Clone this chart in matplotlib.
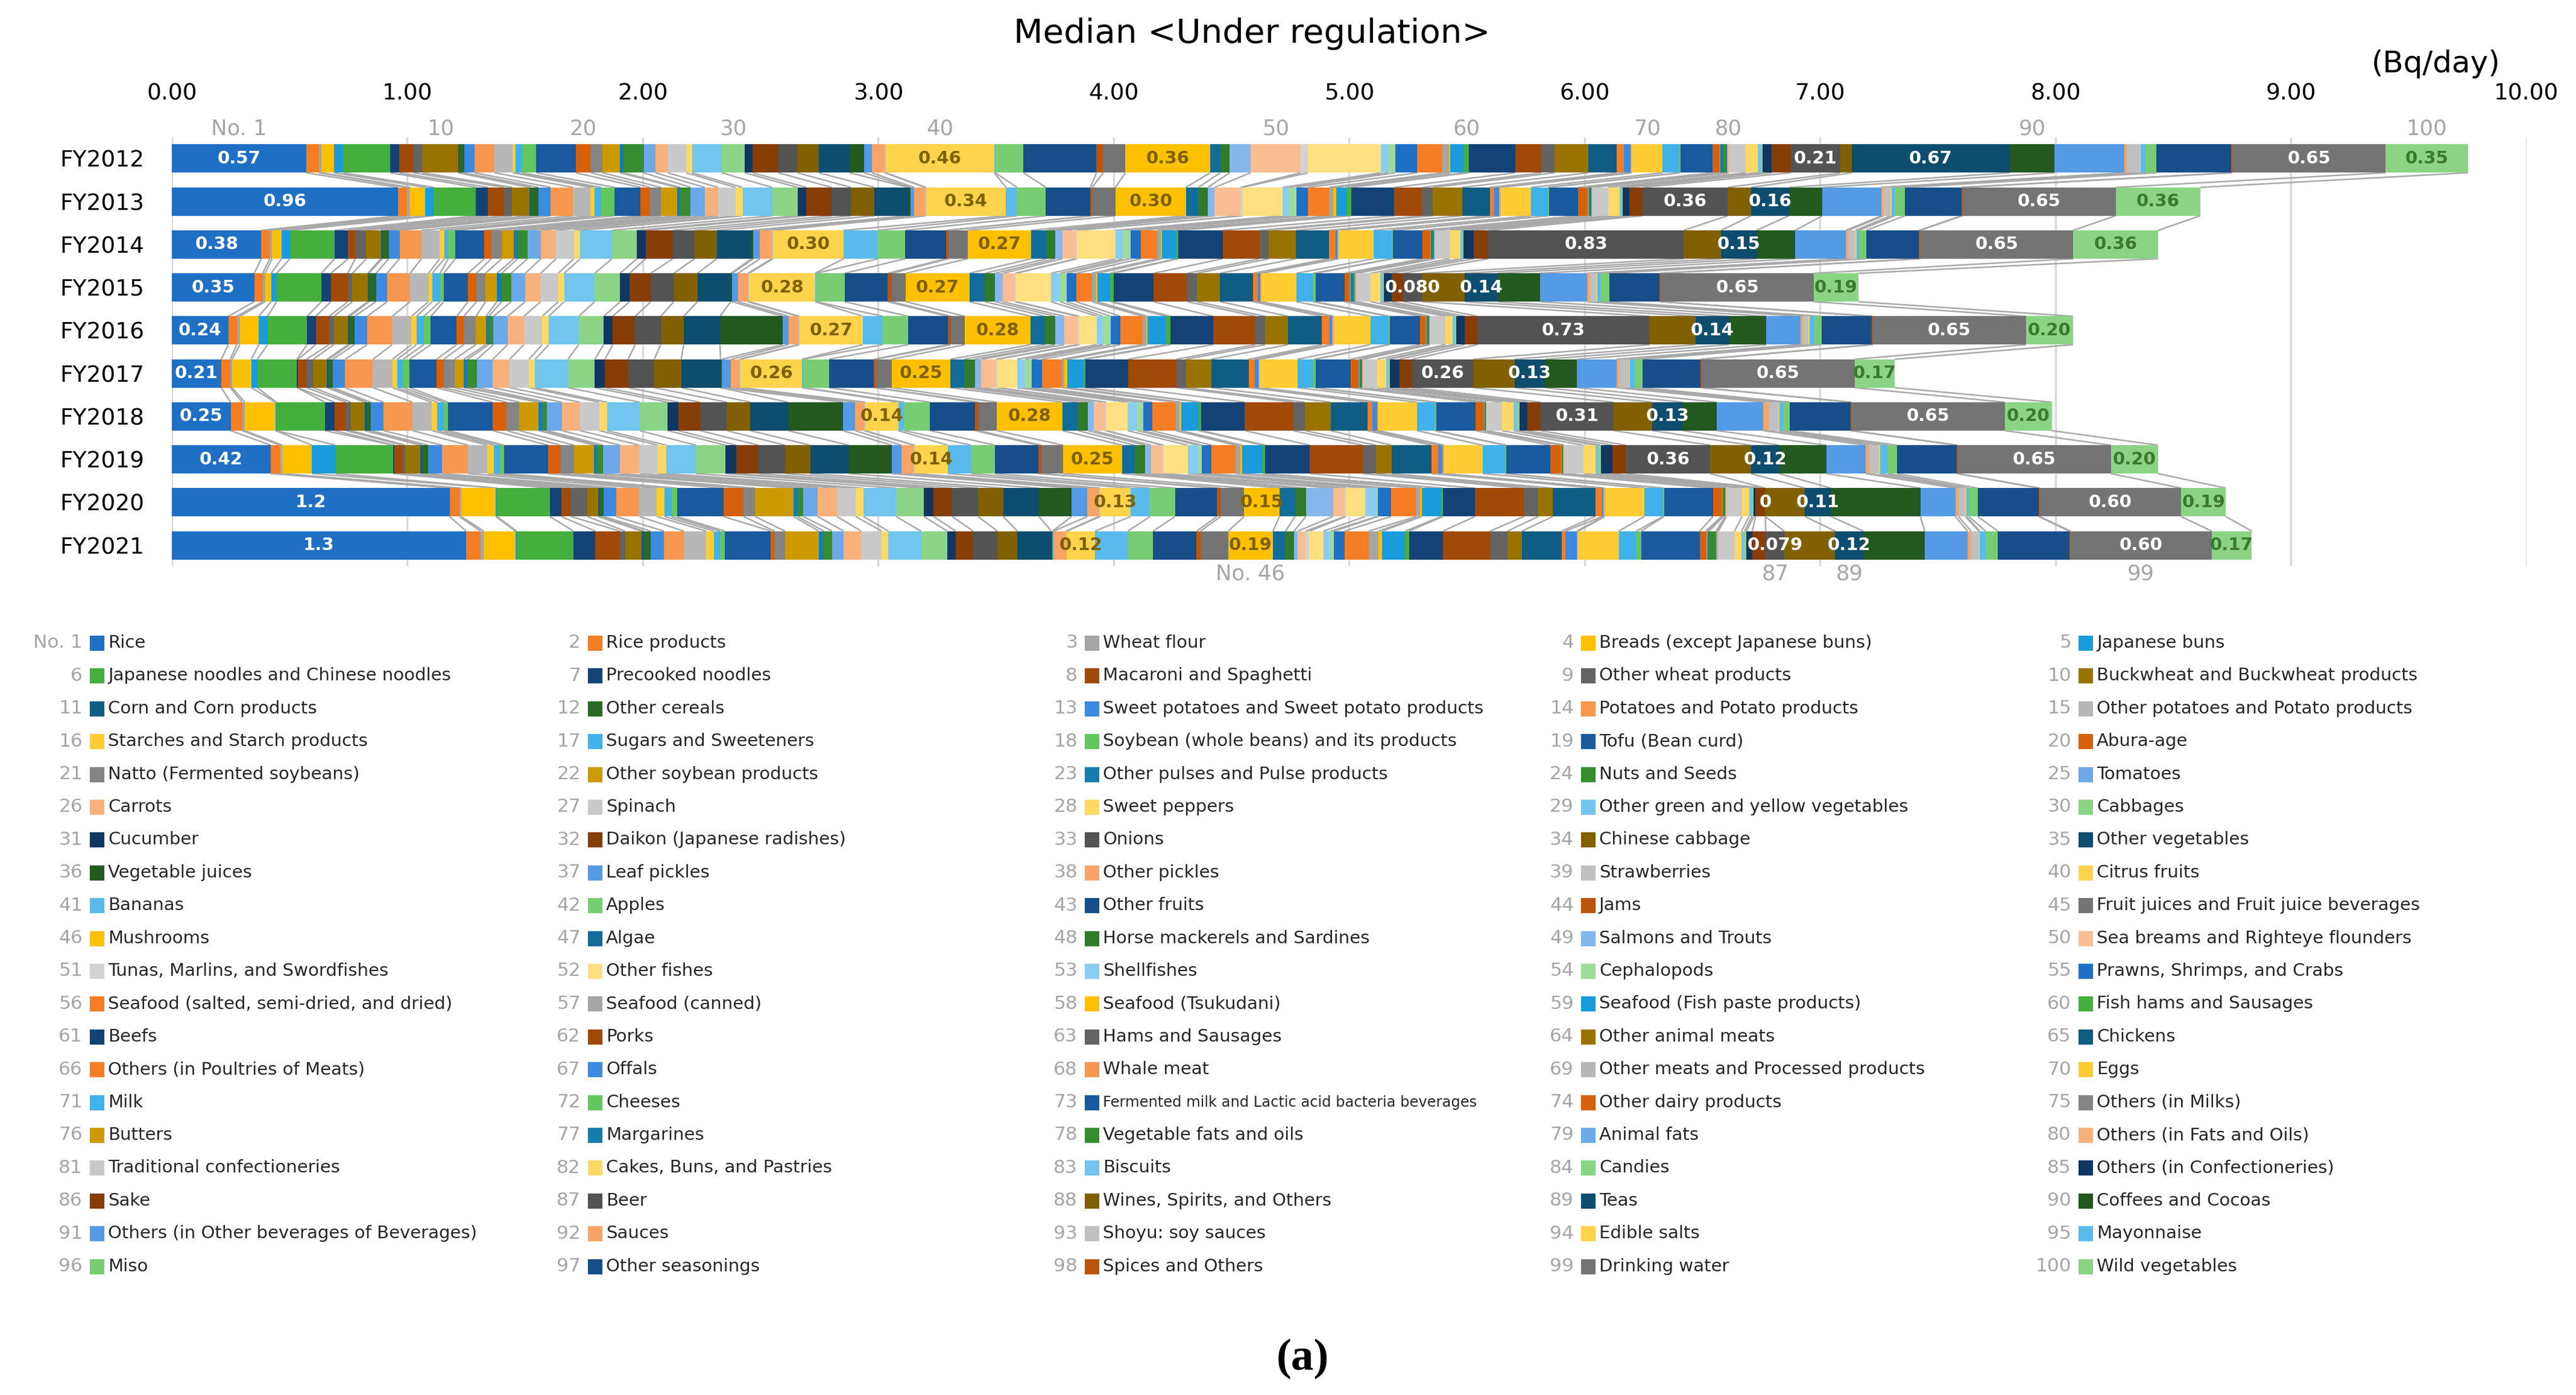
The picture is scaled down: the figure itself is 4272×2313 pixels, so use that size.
import colorsys
import numpy as np
import matplotlib
matplotlib.use("Agg")
import matplotlib.pyplot as plt
import matplotlib.colors as mcolors
from matplotlib.collections import LineCollection
from matplotlib.patches import Rectangle

# ── data ────────────────────────────────────────────────────────────────
years = ["FY2012", "FY2013", "FY2014", "FY2015", "FY2016",
         "FY2017", "FY2018", "FY2019", "FY2020", "FY2021"]

categories = [
    "Rice", "Rice products", "Wheat flour", "Breads (except Japanese buns)", "Japanese buns",
    "Japanese noodles and Chinese noodles", "Precooked noodles", "Macaroni and Spaghetti",
    "Other wheat products", "Buckwheat and Buckwheat products",
    "Corn and Corn products", "Other cereals", "Sweet potatoes and Sweet potato products",
    "Potatoes and Potato products", "Other potatoes and Potato products",
    "Starches and Starch products", "Sugars and Sweeteners", "Soybean (whole beans) and its products",
    "Tofu (Bean curd)", "Abura-age",
    "Natto (Fermented soybeans)", "Other soybean products", "Other pulses and Pulse products",
    "Nuts and Seeds", "Tomatoes",
    "Carrots", "Spinach", "Sweet peppers", "Other green and yellow vegetables", "Cabbages",
    "Cucumber", "Daikon (Japanese radishes)", "Onions", "Chinese cabbage", "Other vegetables",
    "Vegetable juices", "Leaf pickles", "Other pickles", "Strawberries", "Citrus fruits",
    "Bananas", "Apples", "Other fruits", "Jams", "Fruit juices and Fruit juice beverages",
    "Mushrooms", "Algae", "Horse mackerels and Sardines", "Salmons and Trouts",
    "Sea breams and Righteye flounders",
    "Tunas, Marlins, and Swordfishes", "Other fishes", "Shellfishes", "Cephalopods",
    "Prawns, Shrimps, and Crabs",
    "Seafood (salted, semi-dried, and dried)", "Seafood (canned)", "Seafood (Tsukudani)",
    "Seafood (Fish paste products)", "Fish hams and Sausages",
    "Beefs", "Porks", "Hams and Sausages", "Other animal meats", "Chickens",
    "Others (in Poultries of Meats)", "Offals", "Whale meat",
    "Other meats and Processed products", "Eggs",
    "Milk", "Cheeses", "Fermented milk and Lactic acid bacteria beverages",
    "Other dairy products", "Others (in Milks)",
    "Butters", "Margarines", "Vegetable fats and oils", "Animal fats", "Others (in Fats and Oils)",
    "Traditional confectioneries", "Cakes, Buns, and Pastries", "Biscuits", "Candies",
    "Others (in Confectioneries)",
    "Sake", "Beer", "Wines, Spirits, and Others", "Teas", "Coffees and Cocoas",
    "Others (in Other beverages of Beverages)", "Sauces", "Shoyu: soy sauces", "Edible salts",
    "Mayonnaise",
    "Miso", "Other seasonings", "Spices and Others", "Drinking water", "Wild vegetables",
]

fy2012 = [0.57, 0.055, 0.01, 0.055, 0.038, 0.20, 0.038, 0.06, 0.04, 0.15,
          0.005, 0.02, 0.045, 0.085, 0.077, 0.013, 0.028, 0.059, 0.167, 0.065,
          0.049, 0.074, 0.016, 0.085, 0.05, 0.052, 0.078, 0.025, 0.126, 0.098,
          0.033, 0.11, 0.08, 0.092, 0.13, 0.062, 0.033, 0.054, 0.005, 0.46,
          0.005, 0.12, 0.31, 0.028, 0.095, 0.36, 0.043, 0.04, 0.089, 0.213,
          0.03, 0.31, 0.033, 0.028, 0.093, 0.108, 0.028, 0.005, 0.057, 0.021,
          0.197, 0.11, 0.057, 0.144, 0.121, 0.03, 0.028, 0.003, 0.003, 0.13,
          0.07, 0.005, 0.136, 0.028, 0.003, 0.003, 0.013, 0.016, 0.003, 0.003,
          0.074, 0.05, 0.016, 0.004, 0.04, 0.08, 0.21, 0.05, 0.67, 0.19,
          0.297, 0.01, 0.057, 0.003, 0.02, 0.046, 0.318, 0.005, 0.65, 0.35]
fy2013 = [0.96, 0.04, 0.012, 0.064, 0.036, 0.18, 0.05, 0.07, 0.033, 0.074,
          0.005, 0.033, 0.052, 0.095, 0.074, 0.016, 0.03, 0.057, 0.11, 0.04,
          0.046, 0.069, 0.013, 0.044, 0.06, 0.057, 0.074, 0.03, 0.126, 0.107,
          0.038, 0.107, 0.082, 0.10, 0.144, 0.008, 0.016, 0.046, 0.005, 0.34,
          0.046, 0.123, 0.189, 0.008, 0.098, 0.30, 0.052, 0.04, 0.03, 0.11,
          0.008, 0.17, 0.025, 0.033, 0.05, 0.09, 0.016, 0.013, 0.044, 0.02,
          0.184, 0.12, 0.044, 0.123, 0.118, 0.02, 0.02, 0.003, 0.003, 0.13,
          0.07, 0.005, 0.123, 0.04, 0.003, 0.003, 0.005, 0.005, 0.003, 0.003,
          0.066, 0.05, 0.008, 0.005, 0.028, 0.057, 0.36, 0.10, 0.16, 0.143,
          0.25, 0.01, 0.029, 0.004, 0.015, 0.042, 0.24, 0.005, 0.65, 0.36]
fy2014 = [0.38, 0.036, 0.01, 0.04, 0.036, 0.19, 0.057, 0.03, 0.047, 0.062,
          0.005, 0.028, 0.046, 0.093, 0.078, 0.02, 0.016, 0.03, 0.123, 0.03,
          0.044, 0.052, 0.016, 0.042, 0.057, 0.064, 0.075, 0.028, 0.134, 0.106,
          0.038, 0.114, 0.093, 0.095, 0.147, 0.008, 0.028, 0.05, 0.005, 0.30,
          0.146, 0.115, 0.174, 0.01, 0.082, 0.27, 0.066, 0.036, 0.03, 0.057,
          0.005, 0.164, 0.033, 0.03, 0.044, 0.07, 0.016, 0.005, 0.06, 0.008,
          0.189, 0.156, 0.04, 0.115, 0.14, 0.028, 0.008, 0.003, 0.003, 0.147,
          0.077, 0.005, 0.126, 0.03, 0.003, 0.003, 0.004, 0.01, 0.002, 0.003,
          0.062, 0.044, 0.008, 0.005, 0.044, 0.062, 0.83, 0.159, 0.15, 0.164,
          0.216, 0.01, 0.03, 0.005, 0.01, 0.03, 0.225, 0.005, 0.65, 0.36]
fy2015 = [0.35, 0.036, 0.01, 0.026, 0.023, 0.19, 0.04, 0.072, 0.02, 0.065,
          0.005, 0.03, 0.047, 0.098, 0.078, 0.016, 0.033, 0.016, 0.103, 0.036,
          0.038, 0.049, 0.02, 0.04, 0.06, 0.065, 0.075, 0.025, 0.13, 0.108,
          0.04, 0.09, 0.098, 0.10, 0.142, 0.005, 0.025, 0.043, 0.005, 0.28,
          0.005, 0.12, 0.184, 0.016, 0.06, 0.27, 0.066, 0.043, 0.033, 0.052,
          0.005, 0.148, 0.038, 0.028, 0.041, 0.066, 0.02, 0.005, 0.054, 0.013,
          0.17, 0.144, 0.041, 0.098, 0.14, 0.02, 0.01, 0.003, 0.003, 0.148,
          0.07, 0.011, 0.123, 0.021, 0.003, 0.003, 0.006, 0.01, 0.004, 0.004,
          0.06, 0.04, 0.01, 0.006, 0.033, 0.05, 0.08, 0.18, 0.14, 0.18,
          0.20, 0.01, 0.03, 0.005, 0.015, 0.035, 0.213, 0.005, 0.65, 0.19]
fy2016 = [0.24, 0.036, 0.013, 0.08, 0.038, 0.168, 0.036, 0.057, 0.02, 0.06,
          0.008, 0.02, 0.054, 0.106, 0.082, 0.021, 0.031, 0.03, 0.11, 0.03,
          0.052, 0.042, 0.012, 0.02, 0.06, 0.069, 0.078, 0.028, 0.127, 0.106,
          0.038, 0.096, 0.108, 0.098, 0.154, 0.266, 0.025, 0.041, 0.005, 0.27,
          0.085, 0.108, 0.167, 0.013, 0.06, 0.28, 0.06, 0.044, 0.038, 0.057,
          0.008, 0.074, 0.025, 0.033, 0.041, 0.095, 0.016, 0.004, 0.079, 0.02,
          0.18, 0.18, 0.041, 0.098, 0.143, 0.033, 0.011, 0.003, 0.003, 0.156,
          0.074, 0.008, 0.128, 0.025, 0.002, 0.002, 0.004, 0.006, 0.002, 0.002,
          0.066, 0.03, 0.01, 0.006, 0.036, 0.054, 0.73, 0.197, 0.14, 0.16,
          0.144, 0.01, 0.025, 0.005, 0.02, 0.03, 0.213, 0.005, 0.65, 0.20]
fy2017 = [0.21, 0.038, 0.008, 0.082, 0.025, 0.168, 0.005, 0.036, 0.028, 0.059,
          0.008, 0.017, 0.052, 0.118, 0.083, 0.02, 0.025, 0.028, 0.114, 0.03,
          0.046, 0.04, 0.016, 0.04, 0.067, 0.072, 0.082, 0.026, 0.139, 0.114,
          0.044, 0.098, 0.111, 0.114, 0.167, 0.005, 0.04, 0.036, 0.005, 0.26,
          0.005, 0.11, 0.19, 0.01, 0.066, 0.25, 0.057, 0.046, 0.028, 0.062,
          0.005, 0.085, 0.034, 0.028, 0.044, 0.084, 0.011, 0.013, 0.069, 0.008,
          0.18, 0.205, 0.041, 0.107, 0.159, 0.026, 0.016, 0.003, 0.003, 0.159,
          0.069, 0.008, 0.15, 0.033, 0.002, 0.003, 0.004, 0.005, 0.002, 0.002,
          0.061, 0.038, 0.009, 0.006, 0.041, 0.054, 0.26, 0.175, 0.13, 0.136,
          0.167, 0.011, 0.043, 0.004, 0.02, 0.033, 0.246, 0.005, 0.65, 0.17]
fy2018 = [0.25, 0.049, 0.011, 0.13, 0.004, 0.206, 0.041, 0.049, 0.02, 0.06,
          0.008, 0.017, 0.054, 0.123, 0.082, 0.024, 0.028, 0.018, 0.188, 0.06,
          0.054, 0.082, 0.016, 0.02, 0.062, 0.077, 0.082, 0.033, 0.139, 0.119,
          0.044, 0.093, 0.114, 0.10, 0.16, 0.233, 0.052, 0.038, 0.005, 0.14,
          0.025, 0.11, 0.19, 0.016, 0.077, 0.28, 0.066, 0.041, 0.025, 0.049,
          0.005, 0.09, 0.041, 0.025, 0.038, 0.10, 0.016, 0.008, 0.074, 0.011,
          0.185, 0.205, 0.049, 0.11, 0.156, 0.021, 0.02, 0.003, 0.003, 0.164,
          0.074, 0.008, 0.167, 0.033, 0.002, 0.002, 0.003, 0.004, 0.001, 0.001,
          0.066, 0.049, 0.015, 0.01, 0.033, 0.057, 0.31, 0.164, 0.13, 0.143,
          0.198, 0.023, 0.043, 0.004, 0.016, 0.028, 0.257, 0.005, 0.65, 0.20]
fy2019 = [0.42, 0.038, 0.011, 0.126, 0.10, 0.245, 0.005, 0.036, 0.01, 0.065,
          0.008, 0.025, 0.059, 0.11, 0.082, 0.028, 0.025, 0.018, 0.186, 0.054,
          0.057, 0.085, 0.016, 0.021, 0.074, 0.082, 0.078, 0.036, 0.125, 0.126,
          0.045, 0.095, 0.113, 0.107, 0.164, 0.182, 0.041, 0.052, 0.005, 0.14,
          0.10, 0.10, 0.184, 0.013, 0.093, 0.25, 0.054, 0.044, 0.025, 0.049,
          0.005, 0.103, 0.044, 0.016, 0.041, 0.102, 0.02, 0.008, 0.087, 0.011,
          0.189, 0.224, 0.057, 0.066, 0.169, 0.028, 0.02, 0.003, 0.003, 0.164,
          0.095, 0.005, 0.187, 0.043, 0.002, 0.003, 0.003, 0.004, 0.002, 0.002,
          0.082, 0.052, 0.013, 0.008, 0.049, 0.057, 0.36, 0.172, 0.12, 0.20,
          0.167, 0.016, 0.041, 0.004, 0.033, 0.04, 0.253, 0.005, 0.65, 0.20]
fy2020 = [1.18, 0.041, 0.008, 0.147, 0.005, 0.224, 0.049, 0.042, 0.069, 0.046,
          0.008, 0.015, 0.054, 0.098, 0.074, 0.033, 0.029, 0.023, 0.198, 0.085,
          0.049, 0.164, 0.016, 0.025, 0.061, 0.082, 0.079, 0.033, 0.139, 0.118,
          0.041, 0.079, 0.11, 0.107, 0.152, 0.139, 0.066, 0.049, 0.005, 0.13,
          0.082, 0.107, 0.177, 0.016, 0.10, 0.15, 0.066, 0.046, 0.115, 0.05,
          0.005, 0.082, 0.05, 0.005, 0.054, 0.107, 0.016, 0.008, 0.082, 0.008,
          0.136, 0.208, 0.061, 0.062, 0.18, 0.03, 0.005, 0.003, 0.003, 0.167,
          0.079, 0.005, 0.208, 0.036, 0.002, 0.003, 0.003, 0.008, 0.002, 0.003,
          0.066, 0.03, 0.012, 0.008, 0.008, 0.041, 0.0, 0.169, 0.11, 0.38,
          0.149, 0.013, 0.029, 0.004, 0.01, 0.038, 0.259, 0.005, 0.60, 0.19]
fy2021 = [1.25, 0.062, 0.013, 0.134, 0.005, 0.242, 0.093, 0.103, 0.023, 0.07,
          0.01, 0.028, 0.057, 0.085, 0.095, 0.033, 0.025, 0.02, 0.196, 0.016,
          0.044, 0.144, 0.021, 0.036, 0.049, 0.074, 0.087, 0.028, 0.139, 0.111,
          0.036, 0.074, 0.103, 0.085, 0.144, 0.005, 0.005, 0.052, 0.004, 0.12,
          0.139, 0.107, 0.185, 0.016, 0.118, 0.19, 0.054, 0.036, 0.016, 0.033,
          0.016, 0.06, 0.03, 0.015, 0.044, 0.103, 0.041, 0.016, 0.098, 0.016,
          0.144, 0.20, 0.074, 0.061, 0.169, 0.016, 0.049, 0.003, 0.003, 0.172,
          0.074, 0.021, 0.249, 0.025, 0.004, 0.005, 0.005, 0.03, 0.005, 0.005,
          0.069, 0.03, 0.012, 0.008, 0.025, 0.057, 0.079, 0.216, 0.12, 0.26,
          0.182, 0.015, 0.033, 0.004, 0.025, 0.052, 0.303, 0.005, 0.60, 0.17]

# segments carrying a value label, and the label text per year
label_items = [1, 40, 46, 87, 89, 99, 100]
value_labels = [
    ["0.57", "0.46", "0.36", "0.21", "0.67", "0.65", "0.35"],
    ["0.96", "0.34", "0.30", "0.36", "0.16", "0.65", "0.36"],
    ["0.38", "0.30", "0.27", "0.83", "0.15", "0.65", "0.36"],
    ["0.35", "0.28", "0.27", "0.080", "0.14", "0.65", "0.19"],
    ["0.24", "0.27", "0.28", "0.73", "0.14", "0.65", "0.20"],
    ["0.21", "0.26", "0.25", "0.26", "0.13", "0.65", "0.17"],
    ["0.25", "0.14", "0.28", "0.31", "0.13", "0.65", "0.20"],
    ["0.42", "0.14", "0.25", "0.36", "0.12", "0.65", "0.20"],
    ["1.2", "0.13", "0.15", "0", "0.11", "0.60", "0.19"],
    ["1.3", "0.12", "0.19", "0.079", "0.12", "0.60", "0.17"],
]
top_numbers = [1, 10, 20, 30, 40, 50, 60, 70, 80, 90, 100]
bottom_numbers = [46, 87, 89, 99]

# ── colours (Excel-style accent cycle) ─────────────────────────────────
accents = ["#1F6FC5", "#F57D24", "#A5A5A5", "#FFC000", "#1A9BDB", "#45AF3E"]
variants = [(1.0, 0.0), (0.6, 0.0), (0.8, 0.2), (0.8, 0.0), (0.6, 0.4),
            (0.5, 0.0), (0.7, 0.3), (0.7, 0.0), (0.5, 0.5)]


def lum(hexc, mod, off):
    r, g, b = mcolors.to_rgb(hexc)
    h, l, s = colorsys.rgb_to_hls(r, g, b)
    return colorsys.hls_to_rgb(h, min(1.0, l * mod + off), s)


colors = []
for i in range(100):
    k = i % 54
    colors.append(lum(accents[k % 6], *variants[k // 6]))
colors[45] = mcolors.to_rgb("#FFC000")
colors[65] = mcolors.to_rgb("#F57D24")
colors[99] = lum(accents[5], 0.6, 0.4)

label_colors = {1: "white", 40: "#7F6000", 46: "#7F6000", 87: "white",
                89: "white", 99: "white", 100: "#3A7A2E"}

# ── figure ──────────────────────────────────────────────────────────────
data = np.array([fy2012, fy2013, fy2014, fy2015, fy2016,
                 fy2017, fy2018, fy2019, fy2020, fy2021])
cum = np.cumsum(data, axis=1)
left = cum - data
ypos = np.arange(len(years))
h = 0.66

fig = plt.figure(figsize=(14.24, 7.71), dpi=300)
ax = fig.add_axes([0.0667, 0.594, 0.9141, 0.3074])

for k in range(100):
    ax.barh(ypos, data[:, k], left=left[:, k], height=h, color=colors[k],
            edgecolor="none", zorder=3)

# series lines between neighbouring bars
segs = []
for i in range(len(years) - 1):
    for k in range(100):
        segs.append([(cum[i, k], i + h / 2), (cum[i + 1, k], i + 1 - h / 2)])
ax.add_collection(LineCollection(segs, colors="#A9A9A9", linewidths=0.6, zorder=2))

# value labels
for i in range(len(years)):
    for item, txt in zip(label_items, value_labels[i]):
        k = item - 1
        ax.text(left[i, k] + data[i, k] / 2, i, txt, ha="center", va="center",
                fontsize=7, fontweight="bold", color=label_colors[item], zorder=5)

# item numbers above the first bar and below the last bar
for n in top_numbers:
    k = n - 1
    txt = "No. 1" if n == 1 else str(n)
    ax.text(left[0, k] + data[0, k] / 2, -0.70, txt, ha="center", va="center",
            fontsize=8.5, color="#A6A6A6", clip_on=False)
for n in bottom_numbers:
    k = n - 1
    txt = "No. 46" if n == 46 else str(n)
    ax.text(left[-1, k] + data[-1, k] / 2, 9.66, txt, ha="center", va="center",
            fontsize=8.5, color="#A6A6A6", clip_on=False)

ax.set_xlim(0, 10)
ax.set_ylim(9.49, -0.49)
ax.set_xticks(range(11))
ax.set_xticklabels([f"{v:.2f}" for v in range(11)])
ax.xaxis.tick_top()
ax.tick_params(axis="x", length=0, pad=13, labelsize=9)
ax.set_yticks(ypos)
ax.set_yticklabels(years)
ax.tick_params(axis="y", length=0, pad=11, labelsize=9)
ax.grid(axis="x", color="#D9D9D9", linewidth=0.8)
ax.set_axisbelow(True)
for s in ax.spines.values():
    s.set_visible(False)

fig.text(0.486, 0.976, "Median <Under regulation>", ha="center", va="center", fontsize=13.5)
fig.text(0.9455, 0.954, "(Bq/day)", ha="center", va="center", fontsize=12)

# ── legend: 5 columns x 20 rows ────────────────────────────────────────
W, H = 4272.0, 2313.0
col_x = [151, 977, 1801, 2624, 3449]
for idx, name in enumerate(categories):
    r, c = divmod(idx, 5)
    yc = 1066 + 54.4 * r
    x0 = col_x[c]
    fig.patches.append(Rectangle((x0 / W, 1 - (yc + 11) / H), 20 / W, 21 / H,
                                 transform=fig.transFigure, color=colors[idx]))
    num = "No. 1" if idx == 0 else str(idx + 1)
    fig.text((x0 - 14) / W, 1 - yc / H, num, ha="right", va="center",
             fontsize=7.5, color="#A6A6A6")
    fs = 5.8 if idx == 72 else 7
    fig.text((x0 + 28) / W, 1 - yc / H, name, ha="left", va="center",
             fontsize=fs, color="#262626")

fig.text(0.5056, 0.026, "(a)", ha="center", va="center", fontsize=18,
         fontweight="bold", family="Liberation Serif")

fig.savefig("out.png", dpi=300)
